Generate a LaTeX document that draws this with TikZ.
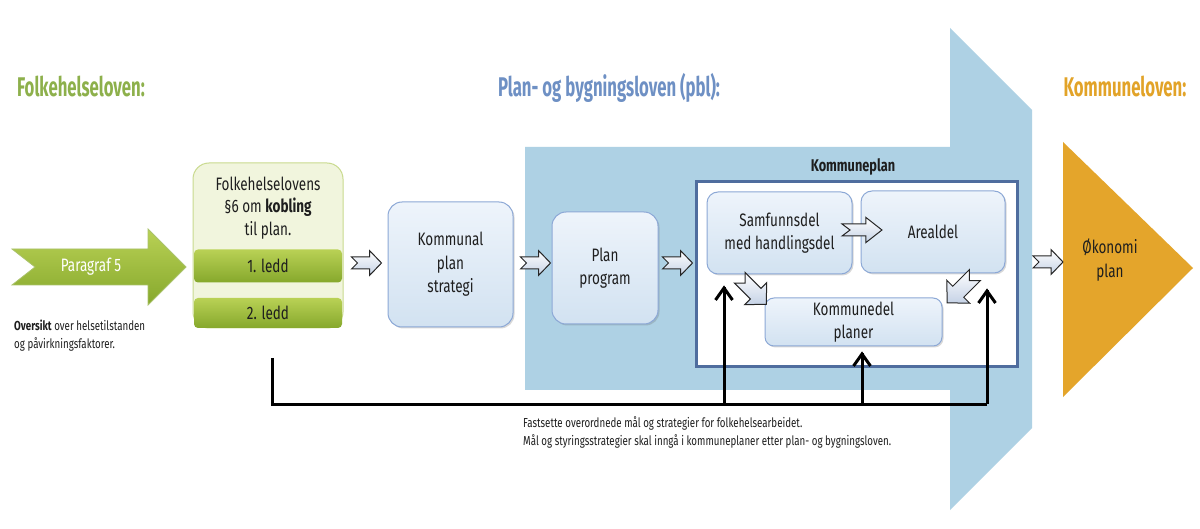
\documentclass[tikz,border=0pt]{standalone}
\usepackage{fontspec}
\setmainfont{Fira Sans}[FakeStretch=0.75]
\newfontfamily\headfont{Fira Sans}[FakeStretch=0.62]
\usetikzlibrary{arrows.meta,shadows,calc}
\definecolor{pblblue}{HTML}{AED1E4}
\definecolor{boxborder}{HTML}{8CA8D6}
\definecolor{boxtop}{HTML}{EEF4FB}
\definecolor{boxbot}{HTML}{D2E2F1}
\definecolor{kpborder}{HTML}{4F6D9E}
\definecolor{headgreen}{HTML}{8DB04B}
\definecolor{headblue}{HTML}{6E90C4}
\definecolor{headorange}{HTML}{E2A328}
\definecolor{okorange}{HTML}{E4A52B}
\definecolor{greentop}{HTML}{B9D155}
\definecolor{greenbot}{HTML}{86A82C}
\definecolor{lightgreen}{HTML}{F1F5DD}
\definecolor{lightgreenborder}{HTML}{C9DA8E}
\definecolor{txt}{HTML}{1E1E1E}
\definecolor{arrfill}{HTML}{C5D2E6}
\begin{document}
\begin{tikzpicture}[x=1pt,y=-1pt,
  box/.style={draw=boxborder, line width=1pt, rounded corners=14pt, top color=boxtop, bottom color=boxbot,
    align=center, text=txt, font=\fontsize{18}{23.5}\selectfont, inner sep=0pt,
    drop shadow={shadow xshift=1.5pt,shadow yshift=-1.5pt,opacity=0.25,fill=black!60}},
  ledd/.style={rounded corners=4pt, top color=greentop, bottom color=greenbot, minimum width=148pt,
    inner sep=0pt, text=txt, font=\fontsize{18}{22}\selectfont},
  fbline/.style={line width=3pt, draw=black},
  barb/.style={line width=3pt, draw=black, line join=miter},
  head/.style={font=\headfont\bfseries\fontsize{27}{30}\selectfont, anchor=base},
  note/.style={font=\fontsize{13}{18}\selectfont, text=txt, align=left, anchor=north west, inner sep=0pt},
  pics/barrow/.style={code={\draw[draw=black!85, line width=1pt, top color=white, bottom color=arrfill, line join=miter]
    (-15,-6) -- (3,-6) -- (3,-12.5) -- (15,0) -- (3,12.5) -- (3,6) -- (-15,6) -- (-9,0) -- cycle;}}
]
\useasboundingbox (0,0) rectangle (1200,529);
\fill[white] (0,0) rectangle (1200,529);

% big blue pbl arrow
\fill[pblblue] (525,147) -- (950,147) -- (950,28) -- (1032,110) -- (1032,428) -- (950,510) -- (950,390) -- (525,390) -- cycle;

% okonomi triangle
\fill[okorange] (1063,142) -- (1193,268) -- (1063,397) -- cycle;
\node[align=center, text=txt, font=\fontsize{18}{23.5}\selectfont] (ok) at (1110,260) {Økonomi\\plan};

% headings
\node[head, text=headgreen] (h1) at (81,97) {Folkehelseloven:};
\node[head, text=headblue] (h2) at (609,97) {Plan- og bygningsloven (pbl):};
\node[head, text=headorange] (h3) at (1125,97) {Kommuneloven:};

% Paragraf 5 arrow
\draw[draw=greenbot!70, line width=0.8pt, top color=greentop, bottom color=greenbot, line join=miter]
  (12,249) -- (148,249) -- (148,229) -- (186,267) -- (148,305) -- (148,285) -- (12,285) -- (35,267) -- cycle;
\node[text=white, font=\fontsize{18}{22}\selectfont] (p5) at (91,267) {Paragraf 5};
\node[note] (ov) at (14,320) {\textbf{Oversikt} over helsetilstanden\\og påvirkningsfaktorer.};

% Folkehelselovens box
\node[draw=lightgreenborder, line width=1pt, fill=lightgreen, rounded corners=16pt,
  minimum width=150pt, minimum height=165pt, inner sep=0pt] (fh) at (268,245.5) {};
\node[align=center, font=\fontsize{18}{22.5}\selectfont, text=txt] (fht) at (268,208) {Folkehelselovens\\§6 om \textbf{kobling}\\til plan.};
\node[ledd, minimum height=33pt] (l1) at (268,266) {1. ledd};
\node[ledd, minimum height=30pt] (l2) at (268,313) {2. ledd};

% process boxes
\node[box, minimum width=125pt, minimum height=125pt] (ks) at (450.5,264.5) {Kommunal\\plan\\strategi};
\node[box, minimum width=106pt, minimum height=112pt] (pp) at (605,268) {Plan\\program};

% Kommuneplan
\node[draw=kpborder, line width=3pt, fill=white, minimum width=321pt, minimum height=185pt, inner sep=0pt] (kp) at (856.5,274.5) {};
\node[font=\bfseries\fontsize{17}{20}\selectfont, text=txt] (kpt) at (853,167) {Kommuneplan};
\node[box, rounded corners=11pt, minimum width=145pt, minimum height=82pt] (sd) at (779.5,233) {Samfunnsdel\\med handlingsdel};
\node[box, rounded corners=11pt, minimum width=144pt, minimum height=82pt] (ad) at (933,232) {Arealdel};
\node[box, rounded corners=9pt, minimum width=177pt, minimum height=48pt] (kd) at (853.5,322) {Kommunedel\\planer};

% block arrows
\pic at ($(ks.west)+(-21,-1.5)$) {barrow};
\pic at ($(pp.west)+(-16,-5)$) {barrow};
\pic at ($(kp.west)+(-17,-11.5)$) {barrow};
\pic at (1048,262) {barrow};
\pic[xscale=1.33] at (862,230) {barrow};
\pic[rotate=-45, scale=1.25] at (753,291) {barrow};
\pic[rotate=-135, scale=1.3] at (961,289) {barrow};

% feedback line
\coordinate (fbs) at (272,358);
\coordinate (fbe) at (987,404);
\coordinate (a1) at (724,404);
\coordinate (t1) at (724,287);
\coordinate (a2) at (862,404);
\coordinate (t2) at (862,353);
\coordinate (t3) at (987,290);
\draw[fbline] (fbs) |- (fbe);
\draw[fbline] (a1) -- (t1);
\draw[fbline] (a2) -- (t2);
\draw[fbline] (fbe) -- (t3);
\foreach \t in {t1,t2,t3} {
  \draw[barb] ($(\t)+(-8.5,13)$) -- ($(\t)+(0,1)$) -- ($(\t)+(8.5,13)$);
}

\node[note] (bt) at (523,416.5) {Fastsette overordnede mål og strategier for folkehelsearbeidet.\\Mål og styringsstrategier skal inngå i kommuneplaner etter plan- og bygningsloven.};
\end{tikzpicture}
\end{document}
